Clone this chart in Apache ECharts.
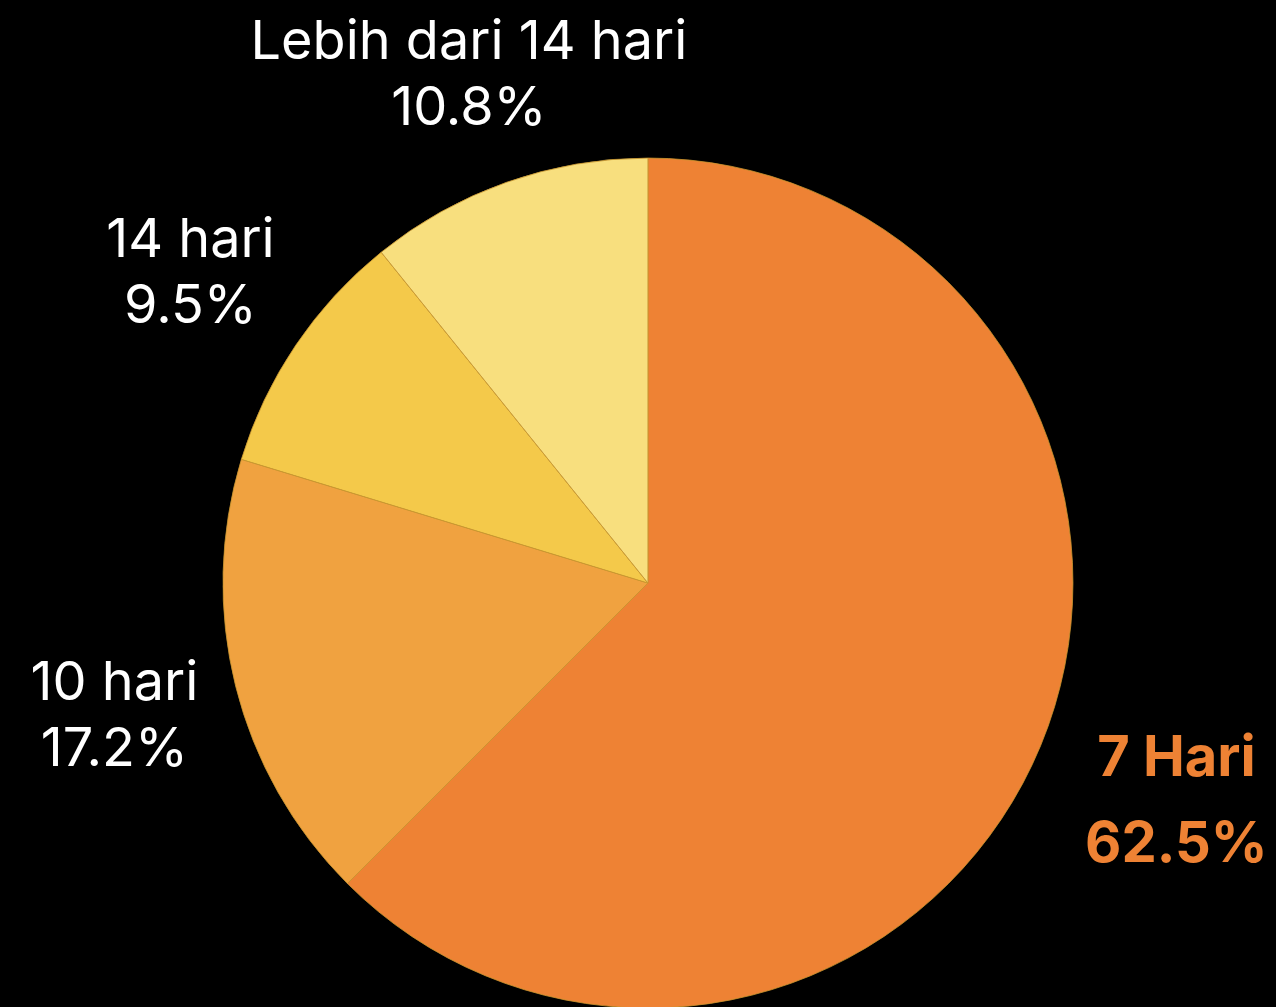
<!DOCTYPE html>
<html>
<head>
<meta charset="utf-8">
<script src="https://cdn.jsdelivr.net/npm/echarts@6/dist/echarts.min.js"></script>
<style>
  html, body { margin: 0; padding: 0; background: #000; }
  #chart { width: 1276px; height: 1007px; }
</style>
</head>
<body>
<div id="chart"></div>
<script>
// data
const categories = ['7 Hari', '10 hari', '14 hari', 'Lebih dari 14 hari']
const values = [62.5, 17.2, 9.5, 10.8]
const colors = ['#EE8234', '#F0A240', '#F4C94A', '#F8DF7E']

const chart = echarts.init(document.getElementById('chart'))

const CX = 0.5078, CY = 0.579, R = 425
const labelDist = [572, 550, 552, 538]

// label position along the middle angle of each slice
const total = values.reduce((a, b) => a + b, 0)
function labelPos(i) {
  let before = 0
  for (let k = 0; k < i; k++) before += values[k]
  const mid = (before + values[i] / 2) / total * Math.PI * 2
  const cx = chart.getWidth() * CX, cy = chart.getHeight() * CY
  return { x: cx + Math.sin(mid) * labelDist[i], y: cy - Math.cos(mid) * labelDist[i] }
}

chart.setOption({
  backgroundColor: '#000',
  animation: false,
  series: [
    {
      type: 'pie',
      center: [CX * 100 + '%', CY * 100 + '%'],
      radius: R,
      startAngle: 90,
      clockwise: true,
      avoidLabelOverlap: false,
      itemStyle: { borderColor: '#C9952E', borderWidth: 0.8 },
      label: {
        show: true,
        position: 'outside',
        color: '#fff',
        fontFamily: 'Inter',
        fontSize: 54,
        lineHeight: 66,
        align: 'center',
        formatter: '{b}\n{d}%'
      },
      labelLine: { show: false },
      labelLayout: function (p) {
        const pos = labelPos(p.dataIndex)
        return { x: pos.x, y: pos.y, align: 'center', verticalAlign: 'middle' }
      },
      data: categories.map((name, i) => {
        const d = { name: name, value: values[i], itemStyle: { color: colors[i] } }
        if (i === 0) {
          d.label = { color: '#EE8234', fontWeight: 'bold', fontSize: 56, lineHeight: 86 }
        }
        return d
      })
    }
  ]
})
</script>
</body>
</html>
